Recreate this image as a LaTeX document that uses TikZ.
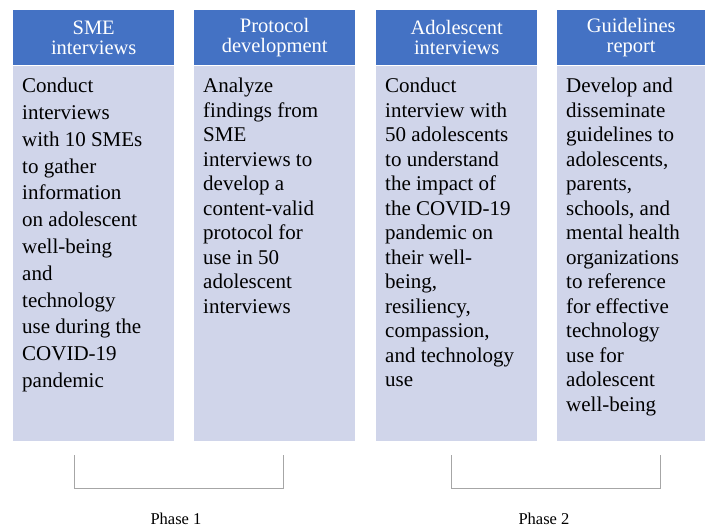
\documentclass[tikz,border=0pt]{standalone}
\usepackage{fontspec}
\setmainfont{Liberation Serif}
\usepackage{tikz}
\usetikzlibrary{positioning}
\usepackage{xcolor}
\definecolor{headblue}{HTML}{4472C4}
\definecolor{bodylav}{HTML}{D0D5EA}
\definecolor{brackgray}{HTML}{A6A6A6}

\begin{document}
\begin{tikzpicture}[x=1pt, y=-1pt,
  head/.style={rectangle, fill=headblue, text=white, anchor=north west, minimum width=161pt, minimum height=55pt, inner sep=0pt, align=center, font=\fontsize{20.5}{20}\selectfont},
  body/.style={rectangle, fill=bodylav, anchor=north west, minimum width=161pt, minimum height=375pt, inner sep=0pt},
  desc/.style={anchor=north west, inner sep=0pt, align=left, font=\fontsize{21}{24.5}\selectfont},
  bracket/.style={draw=brackgray, line width=0.9pt},
  phase/.style={font=\fontsize{16.5}{16}\selectfont}
]
  \useasboundingbox (0,0) rectangle (705,527);

  % column heads
  \node[head] (sme) at (13,10) {SME\\interviews};
  \node[head] (proto) at (194,10) {Protocol\\development};
  \node[head] (adol) at (376,10) {Adolescent\\interviews};
  \node[head, minimum width=148pt] (guide) at (557,10) {Guidelines\\report};

  % column bodies
  \node[body] (smebox) at (sme.south west) {};
  \node[body] (protobox) at (proto.south west) {};
  \node[body] (adolbox) at (adol.south west) {};
  \node[body, minimum width=148pt] (guidebox) at (guide.south west) {};

  \node[desc, font=\fontsize{21}{26.8}\selectfont] (smetxt) at (22,78) {Conduct\\interviews\\with 10 SMEs\\to gather\\information\\on adolescent\\well-being\\and\\technology\\use during the\\COVID-19\\pandemic};
  \node[desc] (prototxt) at (203,78) {Analyze\\findings from\\SME\\interviews to\\develop a\\content-valid\\protocol for\\use in 50\\adolescent\\interviews};
  \node[desc] (adoltxt) at (385,78) {Conduct\\interview with\\50 adolescents\\to understand\\the impact of\\the COVID-19\\pandemic on\\their well-\\being,\\resiliency,\\compassion,\\and technology\\use};
  \node[desc] (guidetxt) at (566,78) {Develop and\\disseminate\\guidelines to\\adolescents,\\parents,\\schools, and\\mental health\\organizations\\to reference\\for effective\\technology\\use for\\adolescent\\well-being};

  % phase brackets
  \coordinate (br1a) at (74,455);
  \coordinate (br1b) at (283,455);
  \coordinate (br2a) at (451,455);
  \coordinate (br2b) at (660,455);
  \draw[bracket] (br1a) -- ++(0,33) -| (br1b);
  \draw[bracket] (br2a) -- ++(0,33) -| (br2b);

  \node[phase] (ph1) at (176,519) {Phase 1};
  \node[phase] (ph2) at (544,519) {Phase 2};
\end{tikzpicture}
\end{document}
